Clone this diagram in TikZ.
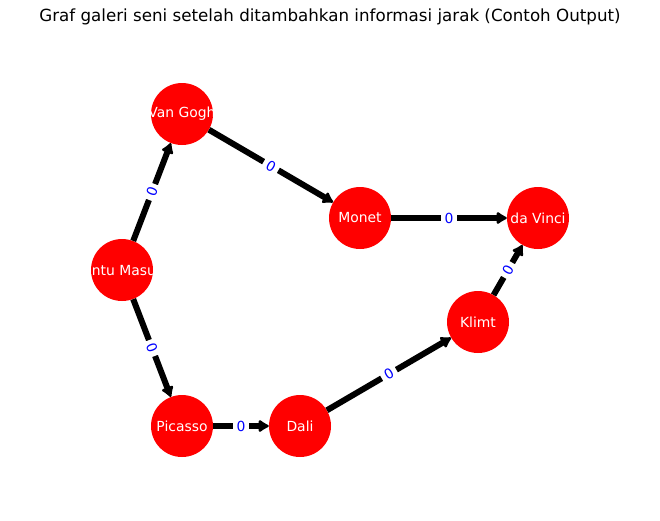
\documentclass[tikz,border=0pt]{standalone}
\usepackage{fontspec}
\setmainfont{DejaVu Sans}
\usetikzlibrary{arrows.meta}
\definecolor{lblblue}{RGB}{0,0,255}
\begin{document}
\begin{tikzpicture}[x=1pt,y=-1pt,
    n/.style={circle,fill=red,inner sep=0pt,minimum size=62pt,label={[t]center:#1}},
    t/.style={text=white,inner sep=0pt,font=\fontsize{13.9}{16}\selectfont},
    e/.style={line width=6pt,-{Latex[round,length=12pt,width=15pt]}},
    w/.style={sloped,fill=white,inner sep=4pt,text=lblblue,font=\fontsize{13.9}{16}\selectfont}]
                \useasboundingbox (0,0) rectangle (660,520);
                \node[font=\fontsize{16.7}{20}\selectfont] (title) at (330,17) {Graf galeri seni setelah ditambahkan informasi jarak (Contoh Output)};

                \node[n=Pintu Masuk] (pintu) at (122,270) {};
                \node[n=Van Gogh] (vangogh) at (182,114) {};
                \node[n=Monet] (monet) at (360,218) {};
                \node[n=da Vinci] (davinci) at (538,218) {};
                \node[n=Klimt] (klimt) at (478,322) {};
                \node[n=Dali] (dali) at (300,426) {};
                \node[n=Picasso] (picasso) at (182,426) {};

                \draw[e] (pintu) to node[w] {0} (vangogh);
                \draw[e] (pintu) to node[w] {0} (picasso);

                \draw[e] (vangogh) to node[w] {0} (monet);

                \draw[e] (monet) to node[w] {0} (davinci);

                \draw[e] (picasso) to node[w] {0} (dali);

                \draw[e] (dali) to node[w] {0} (klimt);

                \draw[e] (klimt) to node[w] {0} (davinci);
            \end{tikzpicture}
\end{document}
